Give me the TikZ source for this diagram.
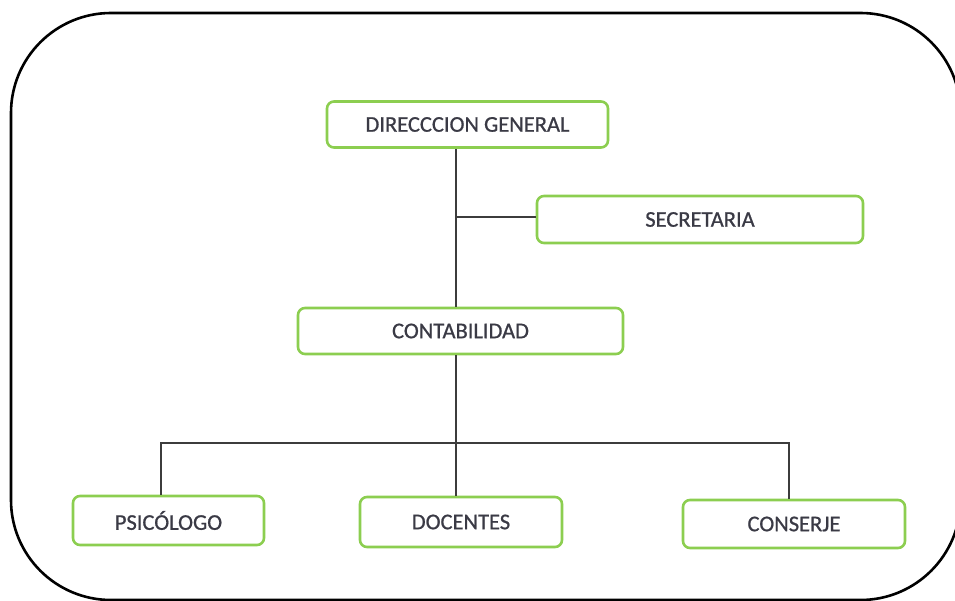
\documentclass[tikz,border=0pt]{standalone}
\usepackage{fontspec}
\setmainfont{Carlito}
\definecolor{boxgreen}{HTML}{8CCE50}
\definecolor{txt}{HTML}{3A3A45}
\definecolor{conn}{HTML}{3C3C3C}
\begin{document}
\begin{tikzpicture}[x=1pt,y=-1pt,
  orgbox/.style={draw=boxgreen, line width=2.6pt, rounded corners=7pt, fill=white,
    text=txt, font=\fontsize{22.5}{26}\selectfont\addfontfeature{FakeBold=0.8}, inner sep=0pt, anchor=center},
  link/.style={draw=conn, line width=1.8pt}]
\useasboundingbox (0,0) rectangle (955,601);
\begin{scope}
\clip (0,0) rectangle (955,601);
\draw[line width=2.6pt, rounded corners=100pt] (11,13) rectangle (960.5,600);
\end{scope}
\node[orgbox, minimum width=281pt, minimum height=46pt] (dg) at (467.5,124.5) {DIRECCCION GENERAL};
\node[orgbox, minimum width=326pt, minimum height=47pt] (sec) at (700,219.5) {SECRETARIA};
\node[orgbox, minimum width=325pt, minimum height=46pt] (cont) at (460.5,331) {CONTABILIDAD};
\node[orgbox, minimum width=191pt, minimum height=49pt] (psi) at (168.5,520.5) {PSICÓLOGO};
\node[orgbox, minimum width=202pt, minimum height=50pt] (doc) at (461,522) {DOCENTES};
\node[orgbox, minimum width=222pt, minimum height=48pt] (cons) at (794,524) {CONSERJE};
\coordinate (t1) at (456,217);
\coordinate (bus) at (456,443);
\coordinate (busL) at (161,443);
\coordinate (busR) at (789,443);
\draw[link] (dg.south -| t1) -- (cont.north -| t1);
\draw[link] (t1) -- (t1 -| sec.west);
\draw[link] (cont.south -| bus) -- (bus);
\draw[link] (busL |- psi.north) -- (busL) -- (busR) -- (busR |- cons.north);
\draw[link] (bus) -- (bus |- doc.north);
\end{tikzpicture}
\end{document}
